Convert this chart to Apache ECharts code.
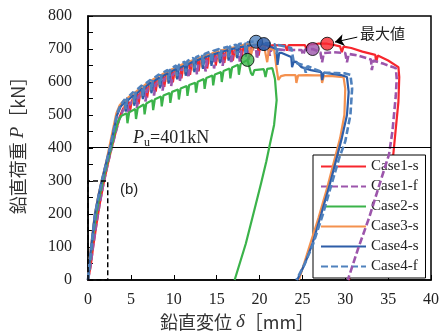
<!DOCTYPE html>
<html>
<head>
<meta charset="utf-8">
<script src="https://cdn.jsdelivr.net/npm/echarts@6.0.0/dist/echarts.min.js"></script>
<style>
  html, body { margin: 0; padding: 0; background: #fff; }
  #chart { width: 442px; height: 335px; }
</style>
</head>
<body>
<div id="chart"></div>
<script>
  // 鉛直変位 δ [mm], 鉛直荷重 P [kN]
  let caseNames = ['Case1-s', 'Case1-f', 'Case2-s', 'Case3-s', 'Case4-s', 'Case4-f']
  let caseColors = ['#f7262d', '#9c55ab', '#3bb34a', '#f4914f', '#2d5da8', '#4f81bd']

  let case1s = [[0,0],[0.3,40],[0.6,100],[1.0,170],[1.4,235],[1.8,290],[2.3,350],[2.8,405],[3.3,455],[3.7,495],[4.1,520],
    [4.8,540],[4.9,510],[5.1,543],[5.8,565],[5.9,533],[6.1,568],[6.8,585],[6.9,553],[7.1,588],
    [7.8,603],[7.9,571],[8.1,606],[8.8,617],[8.9,585],[9.1,620],[9.8,631],[9.9,599],[10.1,634],
    [10.8,643],[10.9,611],[11.1,646],[11.8,654],[11.9,622],[12.1,657],[12.8,664],[12.9,632],[13.1,666],
    [13.8,673],[13.9,641],[14.1,675],[14.8,681],[14.9,650],[15.1,683],[15.8,689],[15.9,658],[16.1,691],
    [16.8,696],[16.9,665],[17.1,697],[17.8,701],[17.9,671],[18.1,702],[18.8,706],[18.9,676],[19.1,707],
    [19.8,709],[19.9,680],[20.1,710],[21,711],[21.2,690],[21.4,711],[22.5,712],[23,712],[23.2,695],[23.4,712],
    [24.8,712],[25.3,712],[25.5,698],[25.7,713],[26.8,716],[27.9,716],[28.7,712],[29.4,708],[29.6,690],[29.8,707],
    [30.7,703],[32,692],[33.5,682],[33.6,660],[33.8,680],[35,665],[36.2,645],[36.3,615],[36.2,540],[35.9,460],
    [35.6,380],[34.5,290],[33.3,190],[32,95],[30.4,0]]

  let case1f = [[0,0],[0.3,45],[0.6,105],[1.0,175],[1.4,238],[1.8,292],[2.3,352],[2.8,405],[3.3,455],[3.7,492],[4.1,515],
    [4.6,530],[4.7,500],[4.9,533],[5.6,553],[5.7,521],[5.9,556],[6.6,573],[6.7,541],[6.9,576],
    [7.6,591],[7.7,559],[7.9,594],[8.6,606],[8.7,574],[8.9,609],[9.6,620],[9.7,588],[9.9,623],
    [10.6,633],[10.7,601],[10.9,636],[11.6,645],[11.7,613],[11.9,647],[12.6,655],[12.7,623],[12.9,657],
    [13.6,664],[13.7,632],[13.9,666],[14.6,672],[14.7,641],[14.9,674],[15.6,680],[15.7,649],[15.9,682],
    [16.6,687],[16.7,656],[16.9,689],[17.6,693],[17.7,662],[17.9,694],[18.6,697],[18.7,667],[18.9,698],
    [19.6,700],[19.7,670],[19.9,701],[21,702],[21.2,680],[21.4,701],[22.9,697],[24.9,697],[25.1,682],[25.3,698],
    [26.2,700],[27.1,690],[27.3,660],[27.5,688],[28.7,690],[30,688],[30.2,660],[30.4,685],[31.5,680],[33,668],
    [33.1,636],[33.3,665],[34.5,655],[35.9,642],[36.0,610],[35.9,560],[35.5,450],[35.1,380],[34,290],[32.8,190],
    [31.5,95],[30.3,0]]

  let case2s = [[0,0],[0.25,60],[0.5,120],[0.9,190],[1.3,248],[1.7,295],[2.2,350],[2.7,400],[3.1,445],[3.5,480],[3.9,498],
    [4.5,505],[4.6,475],[4.8,508],[5.5,518],[5.6,488],[5.8,521],[6.5,532],[6.6,502],[6.8,535],
    [7.5,545],[7.6,515],[7.8,548],[8.5,556],[8.6,526],[8.8,559],[9.5,567],[9.6,537],[9.8,570],
    [10.5,577],[10.6,547],[10.8,580],[11.5,588],[11.6,558],[11.8,591],[12.5,598],[12.6,568],[12.8,601],
    [13.5,609],[13.6,579],[13.8,612],[14.5,620],[14.6,590],[14.8,623],[15.5,630],[15.6,600],[15.8,633],
    [16.5,641],[16.6,611],[16.8,644],[17.5,652],[17.6,622],[17.8,655],[18.6,667],[19.0,627],[19.2,620],[19.4,636],
    [20.5,639],[20.7,615],[20.9,640],[21.5,642],[21.8,610],[22.0,545],[21.7,470],[21.2,410],[20.8,360],[20.2,295],
    [19.4,212],[18.4,110],[17.1,0]]

  let case3s = [[0,0],[0.2,65],[0.5,135],[0.8,200],[1.2,255],[1.6,302],[2.1,355],[2.5,405],[2.9,455],[3.3,505],[3.7,530],
    [4.2,545],[4.3,515],[4.5,548],[5.2,565],[5.3,533],[5.5,568],[6.2,585],[6.3,553],[6.5,588],
    [7.2,603],[7.3,571],[7.5,606],[8.2,618],[8.3,586],[8.5,621],[9.2,632],[9.3,600],[9.5,635],
    [10.2,644],[10.3,612],[10.5,647],[11.2,656],[11.3,624],[11.5,658],[12.2,666],[12.3,634],[12.5,668],
    [13.2,676],[13.3,644],[13.5,678],[14.2,686],[14.3,654],[14.5,688],[15.2,694],[15.3,662],[15.5,696],
    [16.2,700],[16.3,669],[16.5,702],[17.2,706],[17.3,675],[17.5,708],[18,712],[18.7,716],[19.0,680],[19.3,714],
    [20.3,710],[20.6,700],[20.9,660],[21.1,700],[21.7,698],[22.0,640],[22.2,606],[22.5,618],[23,621],[24.2,621],
    [24.3,597],[24.5,620],[25.5,621],[26.5,620],[27.2,620],[27.3,597],[27.5,618],[28.5,618],[29.8,615],[30.0,580],
    [29.9,500],[29.4,430],[28.8,370],[27.9,280],[26.9,190],[25.8,100],[24.6,0]]

  let case4s = [[0,0],[0.2,60],[0.5,130],[0.8,198],[1.2,252],[1.6,300],[2.1,353],[2.6,403],[3.0,453],[3.4,500],[3.8,525],
    [4.3,540],[4.4,510],[4.6,543],[5.3,560],[5.4,528],[5.6,563],[6.3,580],[6.4,548],[6.6,583],
    [7.3,598],[7.4,566],[7.6,601],[8.3,613],[8.4,581],[8.6,616],[9.3,627],[9.4,595],[9.6,630],
    [10.3,640],[10.4,608],[10.6,642],[11.3,651],[11.4,619],[11.6,653],[12.3,662],[12.4,630],[12.6,664],
    [13.3,672],[13.4,640],[13.6,674],[14.3,681],[14.4,649],[14.6,683],[15.3,689],[15.4,657],[15.6,691],
    [16.3,697],[16.4,665],[16.6,699],[17.3,703],[17.4,672],[17.6,705],[18.3,708],[18.4,677],[18.6,710],
    [19.5,712],[20.5,715],[21.4,706],[22,700],[22.1,652],[22.3,688],[22.6,688],[23.7,676],[23.8,645],[24.0,662],
    [24.3,661],[24.9,645],[26,636],[27.2,630],[27.3,606],[27.5,628],[27.9,627],[29.5,621],[30.2,615],[30.4,570],
    [30.2,500],[29.6,430],[29.1,380],[28.2,290],[27.2,200],[26.2,112],[25.3,50],[24.4,0]]

  let case4f = [[0,0],[0.2,55],[0.5,125],[0.8,195],[1.2,250],[1.6,298],[2.1,352],[2.6,405],[3.0,455],[3.4,505],[3.8,530],
    [4.3,548],[4.4,518],[4.6,552],[5.3,570],[5.4,538],[5.6,574],[6.3,590],[6.4,558],[6.6,593],
    [7.3,607],[7.4,575],[7.6,610],[8.3,623],[8.4,591],[8.6,626],[9.3,637],[9.4,605],[9.6,640],
    [10.3,650],[10.4,618],[10.6,652],[11.3,662],[11.4,630],[11.6,664],[12.3,673],[12.4,641],[12.6,675],
    [13.3,683],[13.4,651],[13.6,685],[14.3,692],[14.4,660],[14.6,694],[15.3,700],[15.4,668],[15.6,702],
    [16.3,707],[16.4,675],[16.6,709],[17.3,713],[17.4,682],[17.6,715],[18.3,718],[18.4,688],[18.6,720],
    [19.6,724],[20.3,720],[20.5,695],[20.7,718],[21.8,714],[22.0,685],[22.2,712],[23.7,703],[24.0,660],[24.4,657],
    [25.2,650],[25.4,628],[25.6,648],[26.5,638],[27.6,628],[29,627],[30,626],[30.6,622],[30.8,580],[30.6,500],
    [30.0,420],[29.3,370],[28.4,290],[27.4,200],[26.2,105],[25.2,45],[24.3,0]]

  // 最大値
  let peakCase = ['Case1-s', 'Case1-f', 'Case2-s', 'Case4-f', 'Case4-s']
  let peakDisp = [27.9, 26.2, 18.6, 19.6, 20.5]
  let peakLoad = [716, 700, 667, 722, 715]

  let puLoad = 401
  let boxDisp = 2.3
  let boxLoad = 300

  let xTicks = [0, 5, 10, 15, 20, 25, 30, 35, 40]
  let yTicks = [0, 100, 200, 300, 400, 500, 600, 700, 800]

  let serif = 'Liberation Serif, Times New Roman, serif'
  let jp = 'Noto Sans CJK JP, sans-serif'

  let caseData = [case1s, case1f, case2s, case3s, case4s, case4f]
  let dashed = [false, true, false, false, false, true]

  let chart = echarts.init(document.getElementById('chart'))

  let series = caseNames.map(function (name, i) {
    return {
      name: name,
      type: 'line',
      symbol: 'none',
      z: 3 + i,
      data: caseData[i],
      lineStyle: {
        color: caseColors[i],
        width: dashed[i] ? 2.6 : 2.2,
        type: dashed[i] ? [7, 3] : 'solid'
      },
      itemStyle: { color: caseColors[i] }
    }
  })

  // 破線の枠 (b) と Pu の水平線
  series.push({
    name: 'box',
    type: 'line',
    symbol: 'none',
    z: 12,
    silent: true,
    data: [[0, 0], [0, boxLoad], [boxDisp, boxLoad], [boxDisp, 0], [0, 0]],
    lineStyle: { color: '#000', width: 1.5, type: [5, 3] },
    markLine: {
      silent: true,
      symbol: 'none',
      label: { show: false },
      lineStyle: { color: '#000', width: 1, type: 'solid' },
      data: [{ yAxis: puLoad }]
    }
  })

  series.push({
    name: 'peak',
    type: 'scatter',
    z: 20,
    symbolSize: 13,
    data: peakCase.map(function (c, i) {
      return {
        value: [peakDisp[i], peakLoad[i]],
        itemStyle: { color: caseColors[caseNames.indexOf(c)], borderColor: '#000', borderWidth: 1 }
      }
    }),
    markLine: {
      silent: true,
      symbol: ['none', 'arrow'],
      symbolSize: 9,
      label: { show: false },
      lineStyle: { color: '#000', width: 1, type: 'solid' },
      data: [[{ coord: [31.4, 736] }, { coord: [28.8, 721] }]]
    }
  })

  let options = {
    animation: false,
    backgroundColor: '#fff',
    grid: {
      left: 88, right: 10, top: 16, bottom: 55,
      show: true, borderColor: '#000', borderWidth: 1.5
    },
    legend: {
      data: caseNames,
      orient: 'vertical',
      left: 313,
      top: 155,
      padding: [4, 7],
      itemWidth: 45,
      itemHeight: 14,
      itemGap: 5,
      itemStyle: { opacity: 0, borderWidth: 0 },
      backgroundColor: '#fff',
      borderColor: '#000',
      borderWidth: 1,
      borderRadius: 0,
      textStyle: { fontFamily: serif, fontSize: 15, color: '#222' }
    },
    xAxis: {
      type: 'value',
      min: 0, max: 40, interval: 5,
      axisLine: { lineStyle: { color: '#000', width: 1.5 } },
      axisTick: { inside: true, length: 5, lineStyle: { color: '#000' } },
      splitLine: { show: false },
      axisLabel: {
        margin: 12, fontFamily: serif, fontSize: 16, color: '#222',
        formatter: function (v) { return xTicks.indexOf(v) >= 0 ? v : '' }
      }
    },
    yAxis: {
      type: 'value',
      min: 0, max: 800, interval: 50,
      axisLine: { lineStyle: { color: '#000', width: 1.5 } },
      axisTick: { inside: true, length: 5, lineStyle: { color: '#000' } },
      splitLine: { show: false },
      axisLabel: {
        margin: 16, fontFamily: serif, fontSize: 16, color: '#222',
        formatter: function (v) { return yTicks.indexOf(v) >= 0 ? v : '' }
      }
    },
    graphic: [
      {
        type: 'text', x: 18, y: 141, rotation: Math.PI / 2,
        style: {
          text: '鉛直荷重 {i|P}［kN］', align: 'center', verticalAlign: 'middle',
          fontFamily: jp, fontSize: 18, fill: '#333',
          rich: { i: { fontFamily: serif, fontStyle: 'italic', fontSize: 19, fill: '#333' } }
        }
      },
      {
        type: 'text', x: 237, y: 322,
        style: {
          text: '鉛直変位 {i|δ}［mm］', align: 'center', verticalAlign: 'middle',
          fontFamily: jp, fontSize: 18, fill: '#333',
          rich: { i: { fontFamily: serif, fontStyle: 'italic', fontSize: 19, fill: '#333' } }
        }
      },
      {
        type: 'text', x: 133, y: 138, z: 50,
        style: {
          text: '{i|P}{s|u}{t|=401kN}', verticalAlign: 'middle', fill: '#222',
          rich: {
            i: { fontFamily: serif, fontStyle: 'italic', fontSize: 18, fill: '#222' },
            s: { fontFamily: serif, fontSize: 12, fill: '#222', verticalAlign: 'bottom', padding: [9, 0, 0, 0] },
            t: { fontFamily: serif, fontSize: 18, fill: '#222' }
          }
        }
      },
      {
        type: 'text', x: 120, y: 190, z: 50,
        style: { text: '(b)', verticalAlign: 'middle', fontFamily: 'Liberation Sans, sans-serif', fontSize: 15, fill: '#222' }
      },
      {
        type: 'text', x: 360, y: 33, z: 50,
        style: { text: '最大値', verticalAlign: 'middle', fontFamily: jp, fontSize: 15, fill: '#222' }
      }
    ],
    series: series
  }
  chart.setOption(options)
</script>
</body>
</html>
